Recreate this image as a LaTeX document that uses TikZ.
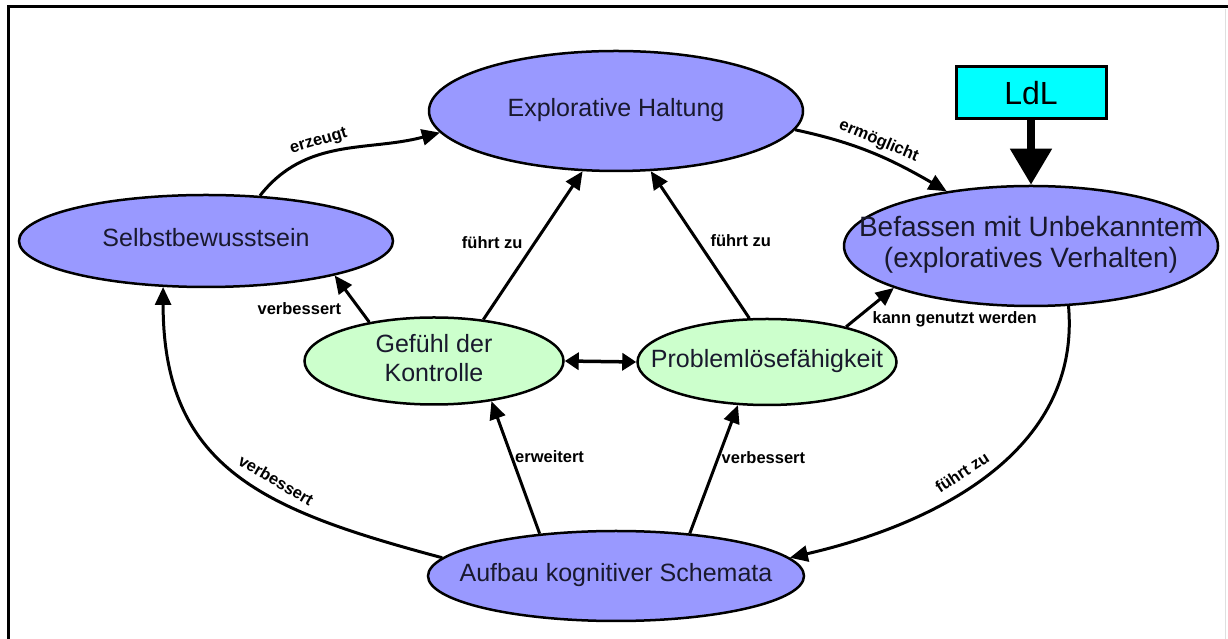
\documentclass[tikz,border=0pt]{standalone}
\usepackage{fontspec}
\setmainfont{Liberation Sans}
\usetikzlibrary{shapes.geometric,arrows.meta}
\definecolor{nodeblue}{RGB}{153,153,255}
\definecolor{nodegreen}{RGB}{204,255,204}
\definecolor{ldlcyan}{RGB}{0,255,255}
\definecolor{txt}{RGB}{25,25,45}
\newcommand\ztext[1]{\makebox[0pt]{\begin{tabular}{@{}c@{}}#1\end{tabular}}}
\begin{document}
\begin{tikzpicture}[x=1pt,y=1pt,
  bigell/.style={ellipse, draw, line width=2.5pt, fill=nodeblue, inner sep=0pt, text=txt, font=\fontsize{25}{29}\selectfont},
  greenell/.style={bigell, fill=nodegreen},
  conn/.style={line width=3pt, -{Triangle[length=18pt,width=16pt]}},
  lbl/.style={font=\fontsize{16.5}{19}\selectfont\bfseries, inner sep=2pt, text=black},
]
\useasboundingbox (0,0) rectangle (1228,639);
\fill[white] (0,0) rectangle (1228,639);
\draw[line width=3pt] (8,0) -- (8,632) -- (1228,632);
\draw[gray!25, line width=1pt] (1225,0) -- (1225,630);

\node[bigell, minimum width=374pt, minimum height=120pt] (exp) at (616,528) {\ztext{Explorative Haltung}};
\node[bigell, minimum width=374pt, minimum height=120pt, font=\fontsize{28}{31}\selectfont] (bef) at (1031,393) {\ztext{Befassen mit Unbekanntem\\(exploratives Verhalten)}};
\node[bigell, minimum width=374pt, minimum height=92pt] (sel) at (206,398) {\ztext{Selbstbewusstsein}};
\node[greenell, minimum width=259pt, minimum height=87pt] (gef) at (434,278) {\ztext{Gefühl der\\Kontrolle}};
\node[greenell, minimum width=259pt, minimum height=86pt] (pro) at (767,277) {\ztext{Problemlösefähigkeit}};
\node[bigell, minimum width=376pt, minimum height=90pt] (auf) at (616,63) {\ztext{Aufbau kognitiver Schemata}};
\node[draw, line width=3pt, fill=ldlcyan, minimum width=150pt, minimum height=52pt, inner sep=0pt, font=\fontsize{32}{36}\selectfont] (ldl) at (1031,546) {LdL};

\draw[conn] (sel.40) to[out=52,in=195] node[lbl, sloped, above=2pt, pos=.4] {erzeugt} (exp.187);
\draw[conn] (exp.-6) to[out=-12,in=150] node[lbl, sloped, above=2pt, pos=.5] {ermöglicht} (bef.147);
\draw[line width=8pt, -{Triangle[length=36pt,width=40pt]}] (ldl.south) -- (bef.north);
\draw[conn] (gef.149) -- node[lbl, pos=.28, left=15pt] {verbessert} (sel.-15);
\draw[conn] (gef.40) -- node[lbl, pos=.52, left=9pt] {führt zu} (exp.241);
\draw[conn] (pro.112) -- node[lbl, pos=.53, right=10pt] {führt zu} (exp.-60);
\draw[conn] (pro.24) -- node[lbl, pos=0, anchor=west, xshift=23pt, yshift=7pt] {kann genutzt werden} (bef.197);
\draw[line width=3.5pt, {Triangle[length=14pt,width=17pt]}-{Triangle[length=14pt,width=17pt]}] (gef.east) -- (pro.west);
\draw[conn] (auf.151) -- node[lbl, pos=.58, right] {erweitert} (gef.-35);
\draw[conn] (auf.30) -- node[lbl, pos=.59, right] {verbessert} (pro.236);
\draw[conn] (auf.174) to[out=165,in=-90,looseness=1.2] node[lbl, sloped, above=7pt, pos=.4] {verbessert} (sel.227);
\draw[conn] (bef.-58) to[out=-85,in=13] node[lbl, sloped, above=7pt, pos=.55] {führt zu} (auf.6);
\end{tikzpicture}
\end{document}
